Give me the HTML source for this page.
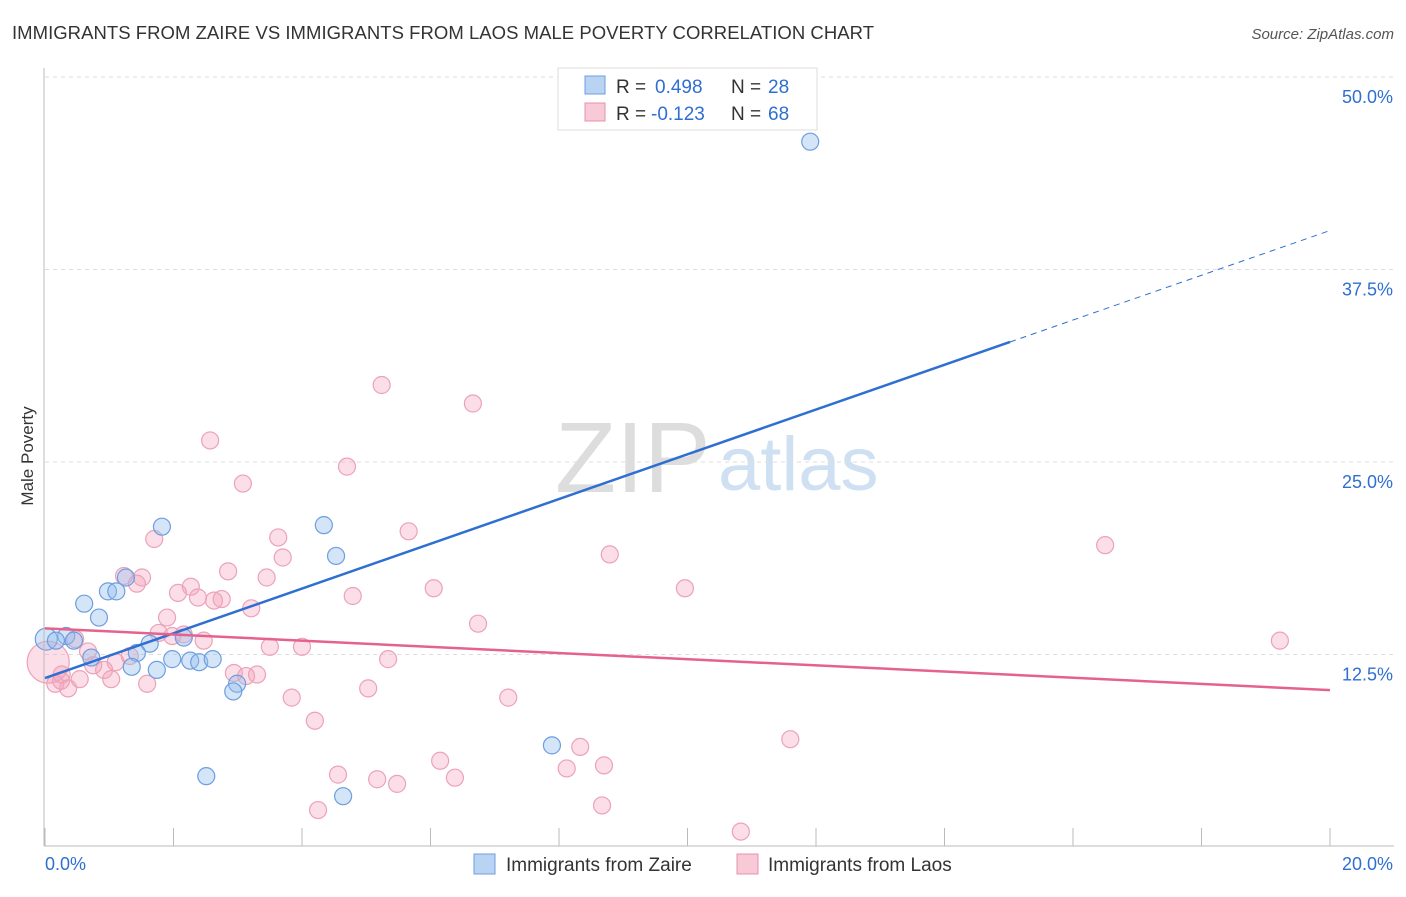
<!DOCTYPE html>
<html><head><meta charset="utf-8"><style>
body{margin:0;background:#fff;font-family:"Liberation Sans",sans-serif}
svg text{font-family:"Liberation Sans",sans-serif}
</style></head><body>
<svg width="1406" height="892" xmlns="http://www.w3.org/2000/svg" id="chart">
<text x="12" y="39" font-size="18.5" fill="#333" textLength="862">IMMIGRANTS FROM ZAIRE VS IMMIGRANTS FROM LAOS MALE POVERTY CORRELATION CHART</text>
<text x="1394" y="39" font-size="15" fill="#555" font-style="italic" text-anchor="end">Source: ZipAtlas.com</text>
<text x="33" y="456" font-size="17" fill="#333" text-anchor="middle" transform="rotate(-90 33 456)">Male Poverty</text>
<text x="555" y="492" font-size="100" fill="#ddd" font-family="Liberation Serif">ZIP</text>
<text x="718" y="490" font-size="76" fill="#cfe0f3">atlas</text>
<g id="grid"></g><g id="pts"></g><g id="lines"></g><g id="axes"></g>
<g>
<rect x="558" y="68" width="259" height="62" fill="#fff" stroke="#ddd"/>
<rect x="585" y="76" width="20" height="18" fill="#b9d3f3" stroke="#6d9ee0"/>
<rect x="585" y="103" width="20" height="18" fill="#f8c9d6" stroke="#e890aa"/>
<text x="616" y="93" font-size="19" fill="#333">R = <tspan x="655" fill="#2f6fd1">0.498</tspan><tspan x="731">N = </tspan><tspan x="768" fill="#2f6fd1">28</tspan></text>
<text x="616" y="120" font-size="19" fill="#333">R = <tspan x="651" fill="#2f6fd1">-0.123</tspan><tspan x="731">N = </tspan><tspan x="768" fill="#2f6fd1">68</tspan></text>
</g>
<g>
<rect x="474" y="854" width="21" height="20" fill="#b9d3f3" stroke="#6d9ee0"/>
<text x="506" y="871" font-size="19" fill="#333">Immigrants from Zaire</text>
<rect x="737" y="854" width="21" height="20" fill="#f8c9d6" stroke="#e890aa"/>
<text x="768" y="871" font-size="19" fill="#333">Immigrants from Laos</text>
</g>
</svg>
<script>
const yTicks=[12.5,25,37.5,50];
const yTickLabels=["12.5%","25.0%","37.5%","50.0%"];
const xTickCount=10;
const zaireX=[11.91,1.82,4.34,4.53,1.26,0.98,1.11,0.61,0.84,0.02,0.33,0.17,0.45,1.63,2.16,1.43,0.72,1.98,2.26,2.40,2.61,1.35,1.74,2.99,2.93,7.89,2.51,4.64];
const zaireY=[45.8,20.8,20.9,18.9,17.5,16.6,16.6,15.8,14.9,13.5,13.7,13.4,13.4,13.2,13.6,12.6,12.3,12.2,12.1,12.0,12.2,11.7,11.5,10.6,10.1,6.6,4.6,3.3];
const laosX=[2.57,5.24,6.66,4.70,3.08,5.66,3.63,1.70,8.79,3.70,16.50,2.85,1.23,1.51,3.45,1.43,2.27,6.05,9.96,2.07,2.38,2.75,2.63,4.79,3.21,1.90,6.74,1.77,2.16,1.98,2.47,0.47,3.50,4.00,19.22,0.67,1.32,5.34,1.10,0.75,0.92,2.94,3.30,3.13,0.26,0.54,1.03,0.16,0.36,1.59,5.03,3.84,7.21,4.20,11.60,8.33,6.15,8.12,8.70,4.56,5.17,6.38,5.48,8.67,4.25,10.83,0.05,0.25];
const laosY=[26.4,30.0,28.8,24.7,23.6,20.5,20.1,20.0,19.0,18.8,19.6,17.9,17.6,17.5,17.5,17.1,16.9,16.8,16.8,16.5,16.2,16.1,16.0,16.3,15.5,14.9,14.5,13.9,13.8,13.7,13.4,13.5,13.0,13.0,13.4,12.7,12.4,12.2,12.0,11.8,11.5,11.3,11.2,11.1,11.2,10.9,10.9,10.6,10.3,10.6,10.3,9.7,9.7,8.2,7.0,6.5,5.6,5.1,5.3,4.7,4.4,4.5,4.1,2.7,2.4,1.0,12.0,10.8];
const laosR=[];laosR[66]=21;
const blueTrend=[10.97,1.453], pinkTrend=[14.2,-0.2005];
const X=v=>45+v/20*1285, Y=v=>847-v/12.5*192.5;
const ns="http://www.w3.org/2000/svg";
function mk(p,t,a){const e=document.createElementNS(ns,t);for(const k in a)e.setAttribute(k,a[k]);document.getElementById(p).appendChild(e);return e;}
yTicks.forEach((t,i)=>{
 const g=mk('grid','line',{x1:45,x2:1394,y1:Y(t),y2:Y(t),stroke:'#ddd','stroke-dasharray':'4 4'});
 
 
 const l=mk('axes','text',{x:1393,y:Y(t)+26,'font-size':18,fill:'#2f6fd1','text-anchor':'end'});l.textContent=yTickLabels[i];
 
 
});
const ax=mk('axes','line',{x1:44,x2:44,y1:68,y2:846,stroke:'#bbb'});


const bx=mk('axes','line',{x1:44,x2:1394,y1:846,y2:846,stroke:'#bbb'});


for(let i=0;i<=xTickCount;i++){const t=mk('axes','line',{x1:X(i*2),x2:X(i*2),y1:828,y2:846,stroke:'#bbb'});
 
 }
[["0.0%",45,'start'],["20.0%",1393,'end']].forEach(a=>{const l=mk('axes','text',{x:a[1],y:870,'font-size':18,fill:'#2f6fd1','text-anchor':a[2]});l.textContent=a[0];
 
 });
laosX.forEach((x,i)=>{const c=mk('pts','circle',{cx:X(x),cy:Y(laosY[i]),r:laosR[i]||8.5,fill:'rgba(244,160,185,0.35)',stroke:'#eca2b8','stroke-width':1.2});
 
 });
zaireX.forEach((x,i)=>{const c=mk('pts','circle',{cx:X(x),cy:Y(zaireY[i]),r:i==9?11:8.5,fill:'rgba(150,190,238,0.4)',stroke:'#6d9ee0','stroke-width':1.2});
 
 });
const bl=mk('lines','line',{x1:X(0),y1:Y(blueTrend[0]),x2:X(15.02),y2:Y(blueTrend[0]+blueTrend[1]*15.02),stroke:'#2f6fd1','stroke-width':2.5});


const bd=mk('lines','line',{x1:X(15.02),y1:Y(blueTrend[0]+blueTrend[1]*15.02),x2:X(20),y2:Y(blueTrend[0]+blueTrend[1]*20),stroke:'#2f6fd1','stroke-width':1,'stroke-dasharray':'6 5'});


const pl=mk('lines','line',{x1:X(0),y1:Y(pinkTrend[0]),x2:X(20),y2:Y(pinkTrend[0]+pinkTrend[1]*20),stroke:'#e5628c','stroke-width':2.5});


</script>
</body></html>
